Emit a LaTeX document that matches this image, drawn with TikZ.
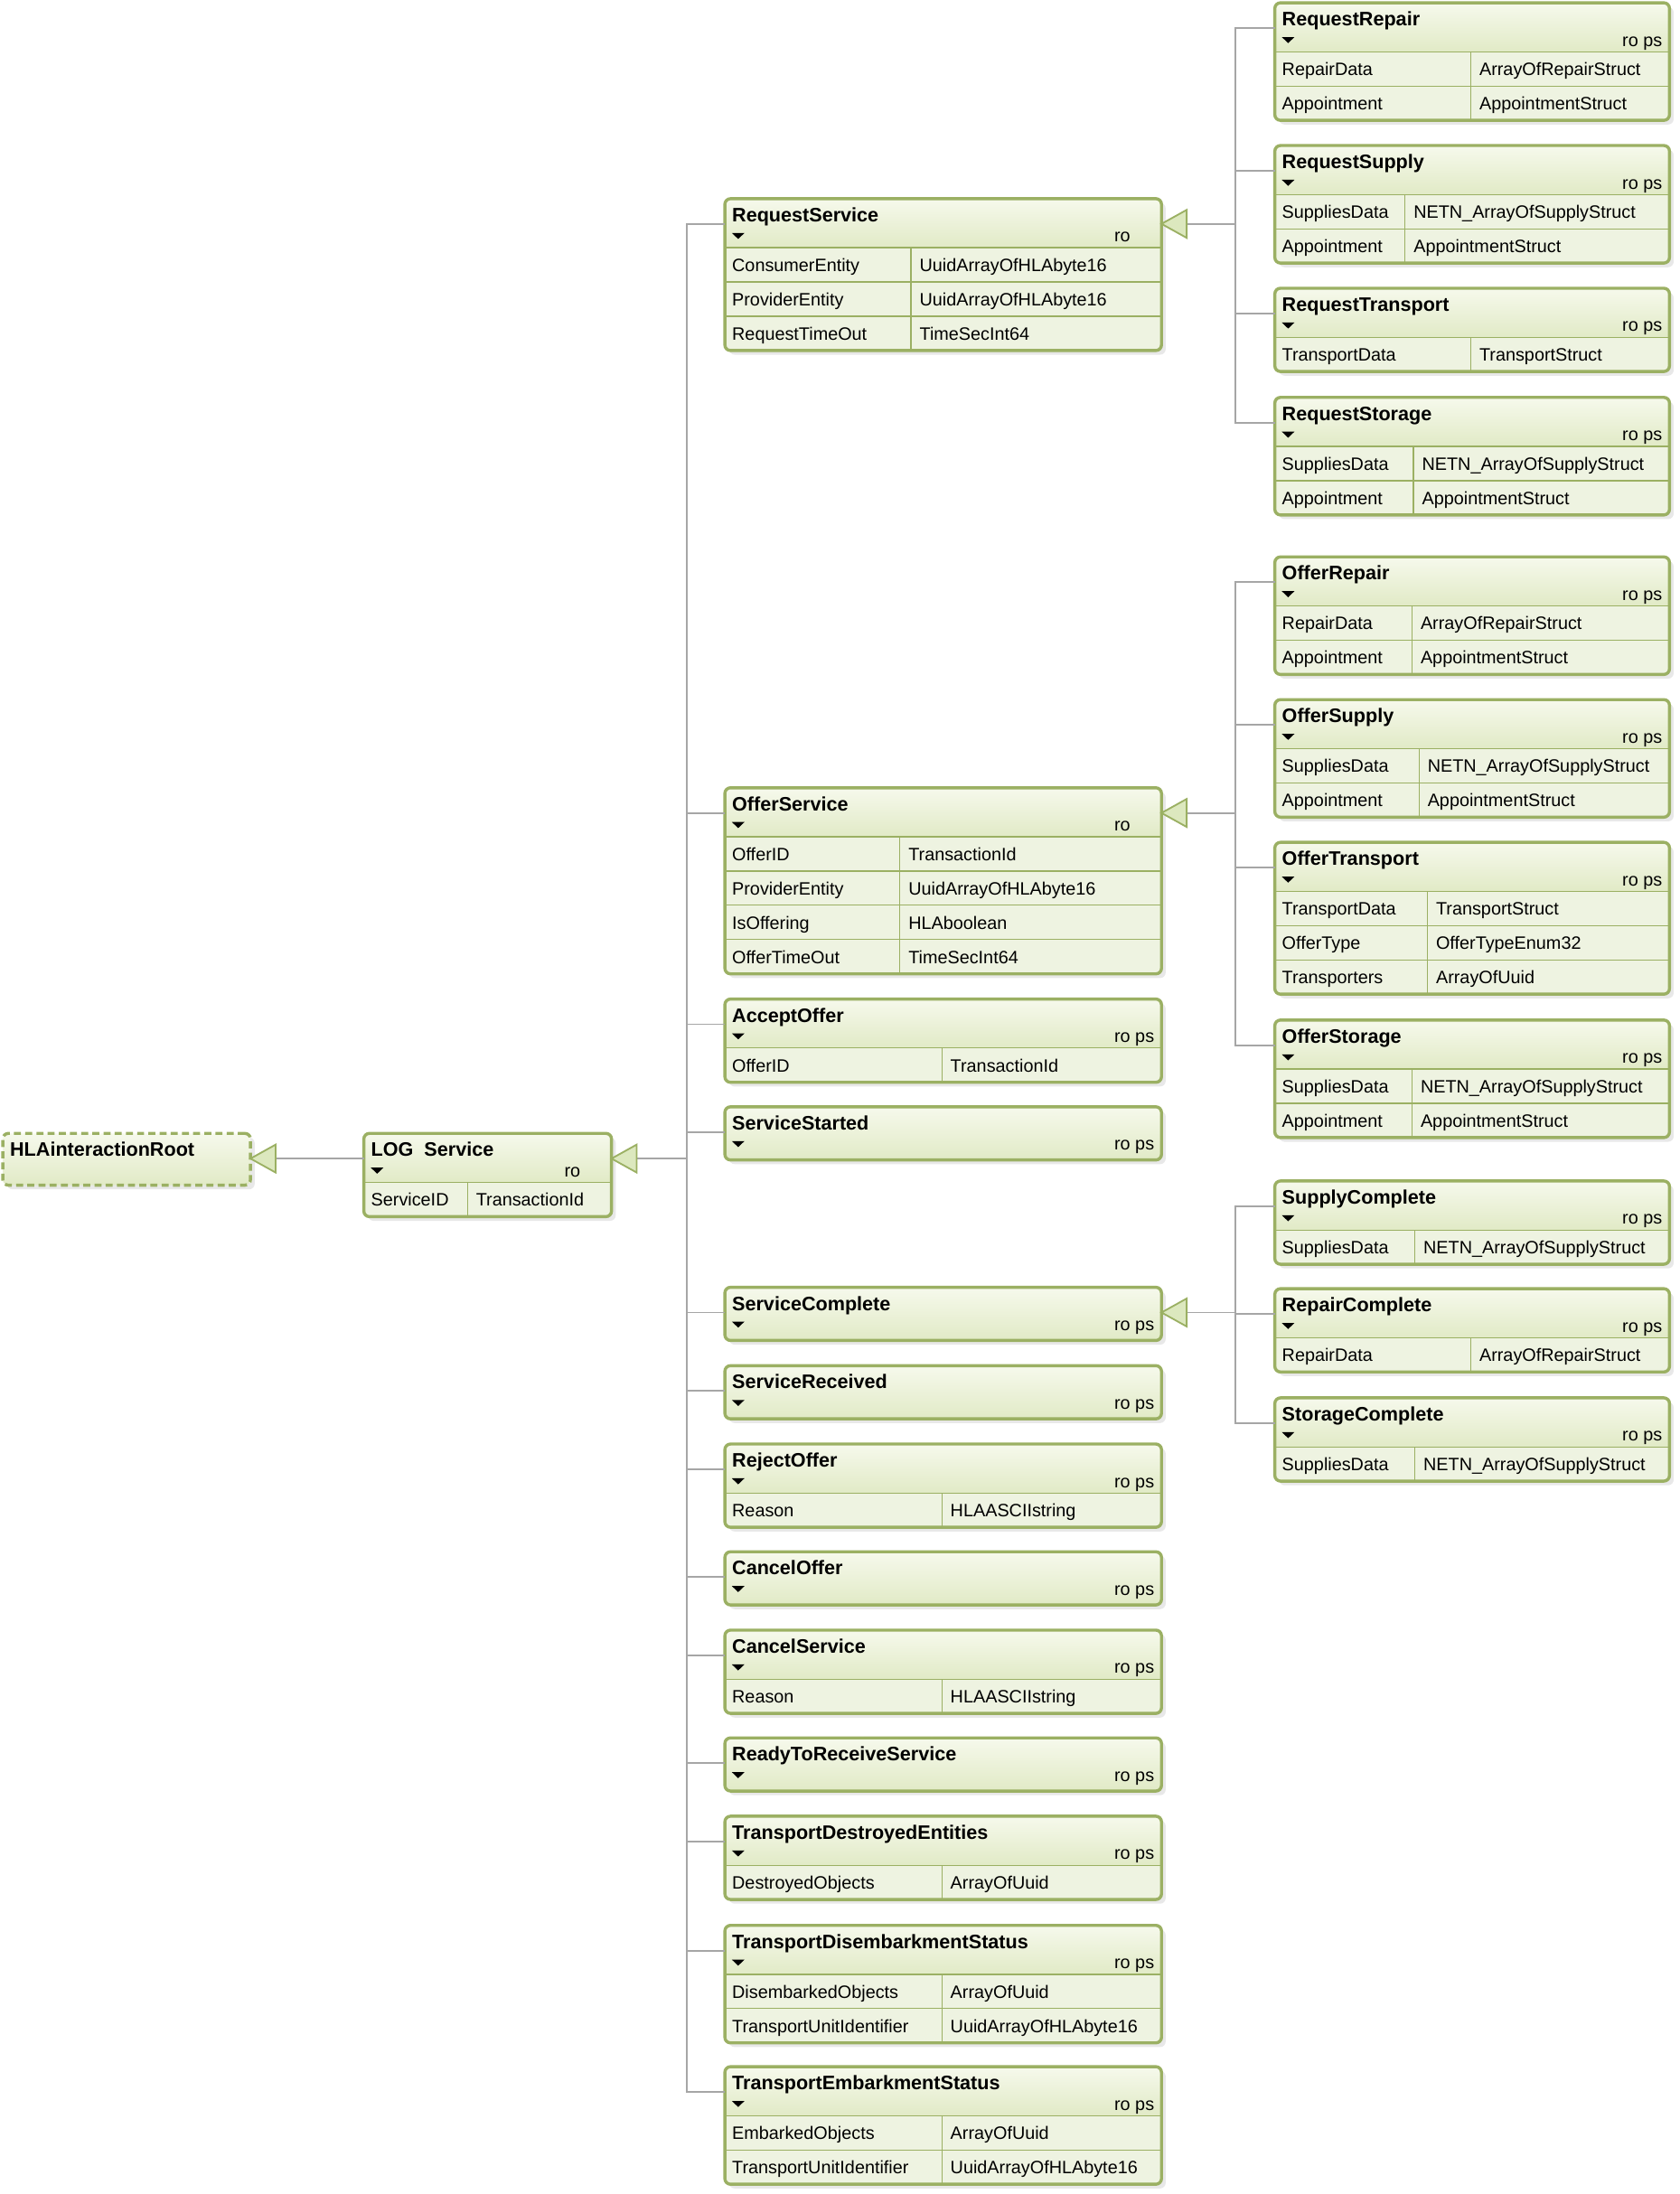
\documentclass[tikz,border=0pt]{standalone}
\usepackage{fontspec}
\setmainfont{Liberation Sans}
\usetikzlibrary{positioning}

\definecolor{hlaborder}{HTML}{9BB063}
\definecolor{headtop}{HTML}{F6F9EC}
\definecolor{headbot}{HTML}{E1EAC6}
\definecolor{rowc}{HTML}{EEF3E1}
\definecolor{genfill}{HTML}{DCE8BE}
\definecolor{conngray}{HTML}{A6A6A6}

\tikzset{
  hlabox/.style={draw=hlaborder, line width=2.2pt, rounded corners=4pt, inner sep=0pt, outer sep=0pt},
  inline/.style={draw=hlaborder, line width=0.8pt},
  conn/.style={draw=conngray, line width=1.2pt},
  genarr/.style={draw=hlaborder, fill=genfill, line width=1.2pt, line join=miter},
  titletext/.style={font=\fontsize{13.95}{16}\selectfont\bfseries, inner sep=0pt, anchor=base west},
  datatext/.style={font=\fontsize{12.8}{15}\selectfont, inner sep=0pt, anchor=base west},
  flagtext/.style={font=\fontsize{12.8}{15}\selectfont, inner sep=0pt, anchor=base east}
}

% name, x, y, width, rows, title, flags, divider x, rows list
\newcommand{\hlaclass}[9]{%
  \pgfmathsetmacro{\hh}{#5==0 ? 38 : 35+24.5*#5}
  \pgfmathsetmacro{\hb}{#5==0 ? 38 : 35}
  \fill[black, opacity=0.09, rounded corners=4pt] (#2+3,#3+3) rectangle (#2+#4+3,#3+\hh+3);
  \begin{scope}
    \clip[rounded corners=4pt] (#2,#3) rectangle (#2+#4,#3+\hh);
    \fill[rowc] (#2,#3) rectangle (#2+#4,#3+\hh);
    \shade[top color=headtop, bottom color=headbot] (#2,#3) rectangle (#2+#4,#3+\hb);
  \end{scope}
  \ifnum#5>0
    \foreach [count=\i] \a/\b in {#9} {
      \pgfmathsetmacro{\ry}{#3+35+24.5*(\i-1)}
      \draw[inline] (#2,\ry) -- (#2+#4,\ry);
      \node[datatext] at (#2+5,\ry+17) {\a};
      \node[datatext] at (#8+6,\ry+17) {\b};
    }
    \draw[inline] (#8,#3+35) -- (#8,#3+\hh);
  \fi
  \node[hlabox, minimum width=#4pt, minimum height=\hh pt, anchor=north west] (#1) at (#2,#3) {};
  \node[titletext] at (#2+5,#3+16.5) {#6};
  \node[flagtext] at (#2+#4-5,#3+31) {#7};
  \fill (#2+5,#3+24.5) -- (#2+14,#3+24.5) -- (#2+9.5,#3+28.8) -- cycle;
  \coordinate (#1-in) at (#2,#3+18);
  \coordinate (#1-out) at (#2+#4,#3+18);
  \coordinate (#1-base) at (#2+#4+18,#3+18);
}
\newcommand{\genarrow}[1]{\draw[genarr] (#1-out) -- ++(18,-10) -- ++(0,20) -- cycle;}

\begin{document}
\begin{tikzpicture}[x=1pt, y=-1pt]
\useasboundingbox (0,0) rectangle (1200,1568);

% root
\fill[black, opacity=0.09, rounded corners=4pt] (5,813) rectangle (182,850);
\begin{scope}
  \clip[rounded corners=4pt] (2,810) rectangle (179,847);
  \shade[top color=headtop, bottom color=headbot] (2,810) rectangle (179,847);
\end{scope}
\node[hlabox, dashed, dash pattern=on 5pt off 3pt, minimum width=177pt, minimum height=37pt, anchor=north west] (root) at (2,810) {};
\node[titletext] at (7,826.5) {HLAinteractionRoot};
\coordinate (root-out) at (179,828);
\coordinate (root-base) at (197,828);

\hlaclass{log}{260}{810}{177}{1}{LOG\ \ Service}{ro\phantom{ ps}}{334}{ServiceID/TransactionId}

% middle column
\hlaclass{rs}{518}{142}{312}{3}{RequestService}{ro\phantom{ ps}}{651}{ConsumerEntity/UuidArrayOfHLAbyte16, ProviderEntity/UuidArrayOfHLAbyte16, RequestTimeOut/TimeSecInt64}
\hlaclass{os}{518}{563}{312}{4}{OfferService}{ro\phantom{ ps}}{643}{OfferID/TransactionId, ProviderEntity/UuidArrayOfHLAbyte16, IsOffering/HLAboolean, OfferTimeOut/TimeSecInt64}
\hlaclass{ao}{518}{714}{312}{1}{AcceptOffer}{ro ps}{673}{OfferID/TransactionId}
\hlaclass{ss}{518}{791}{312}{0}{ServiceStarted}{ro ps}{0}{}
\hlaclass{sc}{518}{920}{312}{0}{ServiceComplete}{ro ps}{0}{}
\hlaclass{sr}{518}{976}{312}{0}{ServiceReceived}{ro ps}{0}{}
\hlaclass{rj}{518}{1032}{312}{1}{RejectOffer}{ro ps}{673}{Reason/HLAASCIIstring}
\hlaclass{co}{518}{1109}{312}{0}{CancelOffer}{ro ps}{0}{}
\hlaclass{cs}{518}{1165}{312}{1}{CancelService}{ro ps}{673}{Reason/HLAASCIIstring}
\hlaclass{rr}{518}{1242}{312}{0}{ReadyToReceiveService}{ro ps}{0}{}
\hlaclass{tde}{518}{1298}{312}{1}{TransportDestroyedEntities}{ro ps}{673}{DestroyedObjects/ArrayOfUuid}
\hlaclass{tds}{518}{1376}{312}{2}{TransportDisembarkmentStatus}{ro ps}{673}{DisembarkedObjects/ArrayOfUuid, TransportUnitIdentifier/UuidArrayOfHLAbyte16}
\hlaclass{tes}{518}{1477}{312}{2}{TransportEmbarkmentStatus}{ro ps}{673}{EmbarkedObjects/ArrayOfUuid, TransportUnitIdentifier/UuidArrayOfHLAbyte16}

% right column
\hlaclass{rqr}{911}{2}{282}{2}{RequestRepair}{ro ps}{1051}{RepairData/ArrayOfRepairStruct, Appointment/AppointmentStruct}
\hlaclass{rqs}{911}{104}{282}{2}{RequestSupply}{ro ps}{1004}{SuppliesData/NETN\_ArrayOfSupplyStruct, Appointment/AppointmentStruct}
\hlaclass{rqt}{911}{206}{282}{1}{RequestTransport}{ro ps}{1051}{TransportData/TransportStruct}
\hlaclass{rqst}{911}{284}{282}{2}{RequestStorage}{ro ps}{1010}{SuppliesData/NETN\_ArrayOfSupplyStruct, Appointment/AppointmentStruct}
\hlaclass{ofr}{911}{398}{282}{2}{OfferRepair}{ro ps}{1009}{RepairData/ArrayOfRepairStruct, Appointment/AppointmentStruct}
\hlaclass{ofs}{911}{500}{282}{2}{OfferSupply}{ro ps}{1014}{SuppliesData/NETN\_ArrayOfSupplyStruct, Appointment/AppointmentStruct}
\hlaclass{oft}{911}{602}{282}{3}{OfferTransport}{ro ps}{1020}{TransportData/TransportStruct, OfferType/OfferTypeEnum32, Transporters/ArrayOfUuid}
\hlaclass{ofst}{911}{729}{282}{2}{OfferStorage}{ro ps}{1009}{SuppliesData/NETN\_ArrayOfSupplyStruct, Appointment/AppointmentStruct}
\hlaclass{spc}{911}{844}{282}{1}{SupplyComplete}{ro ps}{1011}{SuppliesData/NETN\_ArrayOfSupplyStruct}
\hlaclass{rpc}{911}{921}{282}{1}{RepairComplete}{ro ps}{1051}{RepairData/ArrayOfRepairStruct}
\hlaclass{stc}{911}{999}{282}{1}{StorageComplete}{ro ps}{1011}{SuppliesData/NETN\_ArrayOfSupplyStruct}

% connectors
\coordinate (t1) at (491,828);
\coordinate (t2) at (883,160);
\coordinate (t3) at (883,581);
\coordinate (t4) at (883,938);
\draw[conn] (root-base) -- (log-in);
\draw[conn] (log-base) -- (t1);
\foreach \c in {rs,os,ao,ss,sc,sr,rj,co,cs,rr,tde,tds,tes}
  \draw[conn] (\c-in) -| (t1);
\draw[conn] (rs-base) -- (t2);
\foreach \c in {rqr,rqs,rqt,rqst}
  \draw[conn] (\c-in) -| (t2);
\draw[conn] (os-base) -- (t3);
\foreach \c in {ofr,ofs,oft,ofst}
  \draw[conn] (\c-in) -| (t3);
\draw[conn] (sc-base) -- (t4);
\foreach \c in {spc,rpc,stc}
  \draw[conn] (\c-in) -| (t4);

\genarrow{root}
\genarrow{log}
\genarrow{rs}
\genarrow{os}
\genarrow{sc}
\end{tikzpicture}
\end{document}
